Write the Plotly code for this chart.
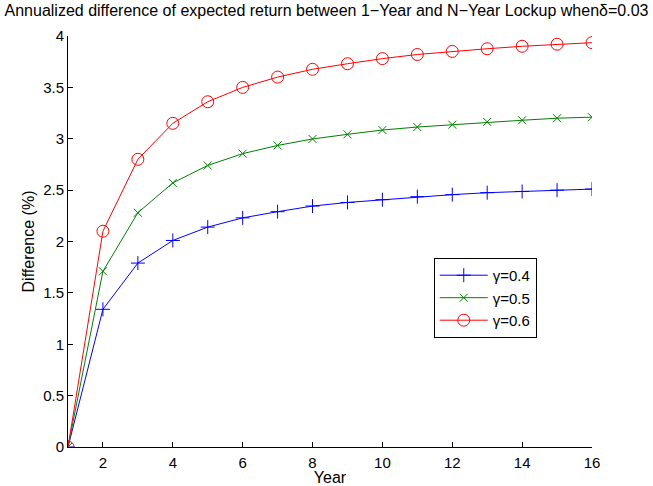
import plotly.graph_objects as go

# Lockup horizon in years
years = list(range(1, 17))

# Annualized difference of expected return (%) for each gamma
diff_g04 = [0.0, 1.34, 1.79, 2.01, 2.14, 2.23, 2.29, 2.345, 2.38, 2.407, 2.436, 2.456, 2.475, 2.487, 2.50, 2.51]
diff_g05 = [0.0, 1.71, 2.28, 2.57, 2.74, 2.855, 2.935, 2.998, 3.043, 3.085, 3.114, 3.137, 3.164, 3.18, 3.20, 3.21]
diff_g06 = [0.0, 2.10, 2.80, 3.15, 3.36, 3.50, 3.60, 3.676, 3.73, 3.78, 3.82, 3.85, 3.876, 3.90, 3.92, 3.935]

series_names = ["γ=0.4", "γ=0.5", "γ=0.6"]

x_ticks = [2, 4, 6, 8, 10, 12, 14, 16]
y_ticks = [0, 0.5, 1, 1.5, 2, 2.5, 3, 3.5, 4]
y_tick_text = ["0", "0.5", "1", "1.5", "2", "2.5", "3", "3.5", "4"]

font_family = "Liberation Sans, Arial, sans-serif"

fig = go.Figure()
fig.add_trace(go.Scatter(
    x=years, y=diff_g04, name=series_names[0], mode="lines+markers",
    line=dict(color="#0000ff", width=1),
    marker=dict(symbol="cross-thin-open", size=10, line=dict(color="#0000ff", width=1)),
))
fig.add_trace(go.Scatter(
    x=years, y=diff_g05, name=series_names[1], mode="lines+markers",
    line=dict(color="#008000", width=1),
    marker=dict(symbol="x-thin-open", size=8, line=dict(color="#008000", width=1)),
))
fig.add_trace(go.Scatter(
    x=years, y=diff_g06, name=series_names[2], mode="lines+markers",
    line=dict(color="#ff0000", width=1),
    marker=dict(symbol="circle-open", size=12, color="#ff0000", line=dict(color="#ff0000", width=1)),
))

fig.update_layout(
    width=653, height=486,
    margin=dict(l=68, r=61, t=36, b=39),
    paper_bgcolor="white", plot_bgcolor="white",
    font=dict(family=font_family, size=15, color="black"),
    title=dict(
        text="Annualized difference of expected return between 1−Year and N−Year Lockup whenδ=0.03",
        x=0.5, xanchor="center", y=1 - 10 / 486, yanchor="middle", yref="container",
        font=dict(size=16),
    ),
    showlegend=True,
    legend=dict(
        x=0.698, y=0.46, xanchor="left", yanchor="top",
        bgcolor="white", bordercolor="black", borderwidth=1,
        font=dict(size=15), itemwidth=48, tracegroupgap=0,
    ),
    xaxis=dict(
        range=[1, 16], tickvals=x_ticks, ticks="inside", ticklen=5, tickcolor="black",
        showline=True, linecolor="black", linewidth=1, showgrid=False, zeroline=False,
        ticklabelstandoff=2,
        title=dict(text="Year", standoff=3, font=dict(size=16)), mirror=False, automargin=False,
    ),
    yaxis=dict(
        range=[0, 4], tickvals=y_ticks, ticktext=y_tick_text, ticks="inside", ticklen=5,
        tickcolor="black", showline=True, linecolor="black", linewidth=1, showgrid=False,
        zeroline=False, title=dict(text="Difference (%)", standoff=4, font=dict(size=16)),
        mirror=False, automargin=False,
    ),
)

fig.write_html("out.html")
